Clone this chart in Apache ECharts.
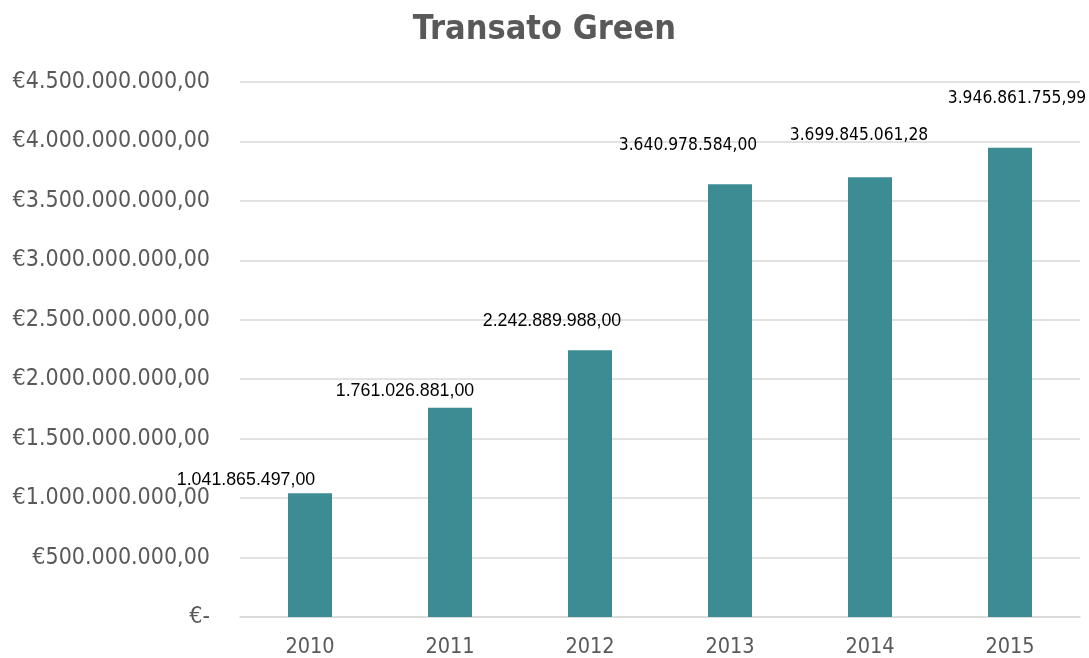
<!DOCTYPE html>
<html>
<head>
<meta charset="utf-8">
<script src="https://cdn.jsdelivr.net/npm/echarts@6/dist/echarts.min.js"></script>
<style>
    html, body { margin: 0; padding: 0; background: #fff; }
    #chart { width: 1089px; height: 658px; }
</style>
</head>
<body>
<div id="chart"></div>
<script>
var years = ['2010', '2011', '2012', '2013', '2014', '2015'];
var transato = [1041865497.00, 1761026881.00, 2242889988.00, 3640978584.00, 3699845061.28, 3946861755.99];

// label placement as in the original (Excel moved some labels by hand)
var labelShift = [[-64, -4], [-45, -8], [-38, -20], [-42, -30], [-11, -33], [7, -41]];
var labelFont = ['Liberation Sans', 'Liberation Sans', 'Liberation Sans', 'DejaVu Sans Condensed', 'DejaVu Sans Condensed', 'DejaVu Sans Condensed'];

function formatIt(v, dec) {
    var s = v.toFixed(dec);
    var parts = s.split('.');
    var intPart = parts[0].replace(/\B(?=(\d{3})+(?!\d))/g, '.');
    return intPart + (parts[1] ? ',' + parts[1] : '');
}

var chart = echarts.init(document.getElementById('chart'));

var barData = transato.map(function (v, i) {
    return {
        value: v,
        label: {
            offset: labelShift[i],
            fontFamily: labelFont[i],
            fontSize: i < 3 ? 17.8 : 17.3
        }
    };
});

var option = {
    animation: false,
    title: {
        text: 'Transato Green',
        left: 'center',
        top: 8,
        textStyle: {
            fontFamily: 'DejaVu Sans Condensed',
            fontWeight: 'bold',
            fontSize: 34,
            color: '#595959'
        }
    },
    grid: {
        left: 240,
        right: 9,
        top: 82,
        bottom: 41
    },
    xAxis: {
        type: 'category',
        data: years,
        axisTick: { show: false },
        axisLine: { lineStyle: { color: '#d9d9d9', width: 1.5 } },
        axisLabel: {
            color: '#595959',
            fontFamily: 'DejaVu Sans Condensed',
            fontSize: 21.5,
            margin: 19
        }
    },
    yAxis: {
        type: 'value',
        min: 0,
        max: 4500000000,
        interval: 500000000,
        axisLine: { show: false },
        axisTick: { show: false },
        splitLine: { lineStyle: { color: '#d9d9d9', width: 1.5 } },
        axisLabel: {
            color: '#595959',
            fontFamily: 'DejaVu Sans Condensed',
            fontSize: 23,
            margin: 30,
            formatter: function (v) {
                if (v === 0) return '€-';
                return '€' + formatIt(v, 2);
            }
        }
    },
    series: [{
        type: 'bar',
        data: barData,
        barWidth: 44,
        itemStyle: { color: '#3c8c93' },
        label: {
            show: true,
            position: 'top',
            distance: 0,
            color: '#000',
            formatter: function (p) {
                return formatIt(p.value, 2);
            }
        }
    }]
};
chart.setOption(option);
</script>
</body>
</html>
